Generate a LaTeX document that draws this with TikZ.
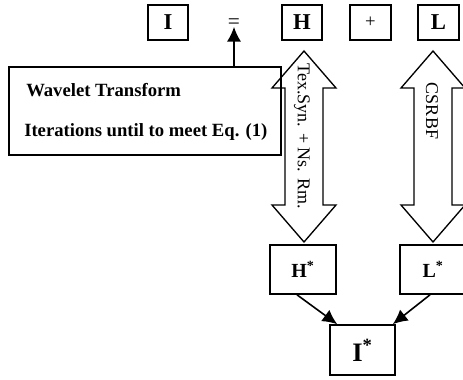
\documentclass[tikz,border=0pt]{standalone}
\usepackage{fontspec}
\setmainfont{Liberation Serif}
\usetikzlibrary{arrows.meta}

\tikzset{
  box/.style={draw, line width=1.2pt, inner sep=0pt},
  link/.style={line width=1.2pt, -{Latex[length=11pt, width=10.5pt]}},
  fat/.style={draw, line width=1pt}
}

%% Block arrow with a head on both ends: centre x, top y, bottom y.
\newcommand{\twowayarrow}[3]{%
  \draw[fat] (#1,#2) -- ++(32,37) -- ++(-13,0) -- (#1+19,#3-37)
  -- ++(13,0) -- (#1,#3) -- ++(-32,-37) -- ++(13,0)
  -- (#1-19,#2+37) -- ++(-13,0) -- cycle;}

\begin{document}
\begin{tikzpicture}[x=0.75pt, y=-0.75pt]

  \useasboundingbox (0,0) rectangle (463,379);


  %% Top row: I = H + L
  \node[box, minimum width=30pt, minimum height=26.25pt] (ii) at (168,22.5)
  {\fontsize{17}{20}\selectfont\bfseries I};
  \node[inner sep=0pt] (eq) at (234,23.5) {\fontsize{16}{18}\selectfont =};
  \node[box, minimum width=30pt, minimum height=26.25pt] (hh) at (302,22.5)
  {\fontsize{17}{20}\selectfont\bfseries H};
  \node[box, minimum width=30.75pt, minimum height=26.25pt] (pl) at (370.5,22.5)
  {\fontsize{14}{16}\selectfont +};
  \node[box, minimum width=30.75pt, minimum height=26.25pt] (ll) at (438.5,22.5)
  {\fontsize{17}{20}\selectfont\bfseries L};


  %% Wavelet box and its arrow up to the equal sign.
  \node[box, minimum width=204pt, minimum height=66pt] (wt) at (145,111) {};
  \node[anchor=west, inner sep=0pt] (wtone) at (26,90)
  {\fontsize{14}{16}\selectfont\bfseries Wavelet Transform};
  \node[anchor=west, inner sep=0pt] (wttwo) at (24,132)
  {\fontsize{14}{16}\selectfont\bfseries Iterations until to meet Eq. (1)};
  \draw[link] (wt.north -| eq) -- ([yshift=-2.5pt]eq.center);


  %% The two block arrows.
  \twowayarrow{304}{51}{242}
  \node[rotate=-90, inner sep=0pt] (hlab) at (302,136)
  {\fontsize{13.5}{15}\selectfont Tex.Syn. + Ns. Rm.};

  \twowayarrow{433}{51}{242}
  \node[rotate=-90, inner sep=0pt] (llab) at (432,111)
  {\fontsize{13.5}{15}\selectfont CSRBF};


  %% Results
  \node[box, minimum width=49.5pt, minimum height=36.75pt] (hs) at (303,269.5)
  {\fontsize{15}{18}\selectfont\bfseries H\textsuperscript{*}};
  \node[box, minimum width=49.5pt, minimum height=36.75pt] (ls) at (433,269.5)
  {\fontsize{15}{18}\selectfont\bfseries L\textsuperscript{*}};
  \node[box, minimum width=48.75pt, minimum height=37.5pt] (is) at (362.5,350)
  {\fontsize{20}{23}\selectfont\bfseries I\textsuperscript{*}};

  \draw[link] ([xshift=-4.5pt]hs.south) -- ([xshift=6pt]is.north west);
  \draw[link] ([xshift=-2.25pt]ls.south) -- ([xshift=-2.25pt]is.north east);

\end{tikzpicture}
\end{document}
